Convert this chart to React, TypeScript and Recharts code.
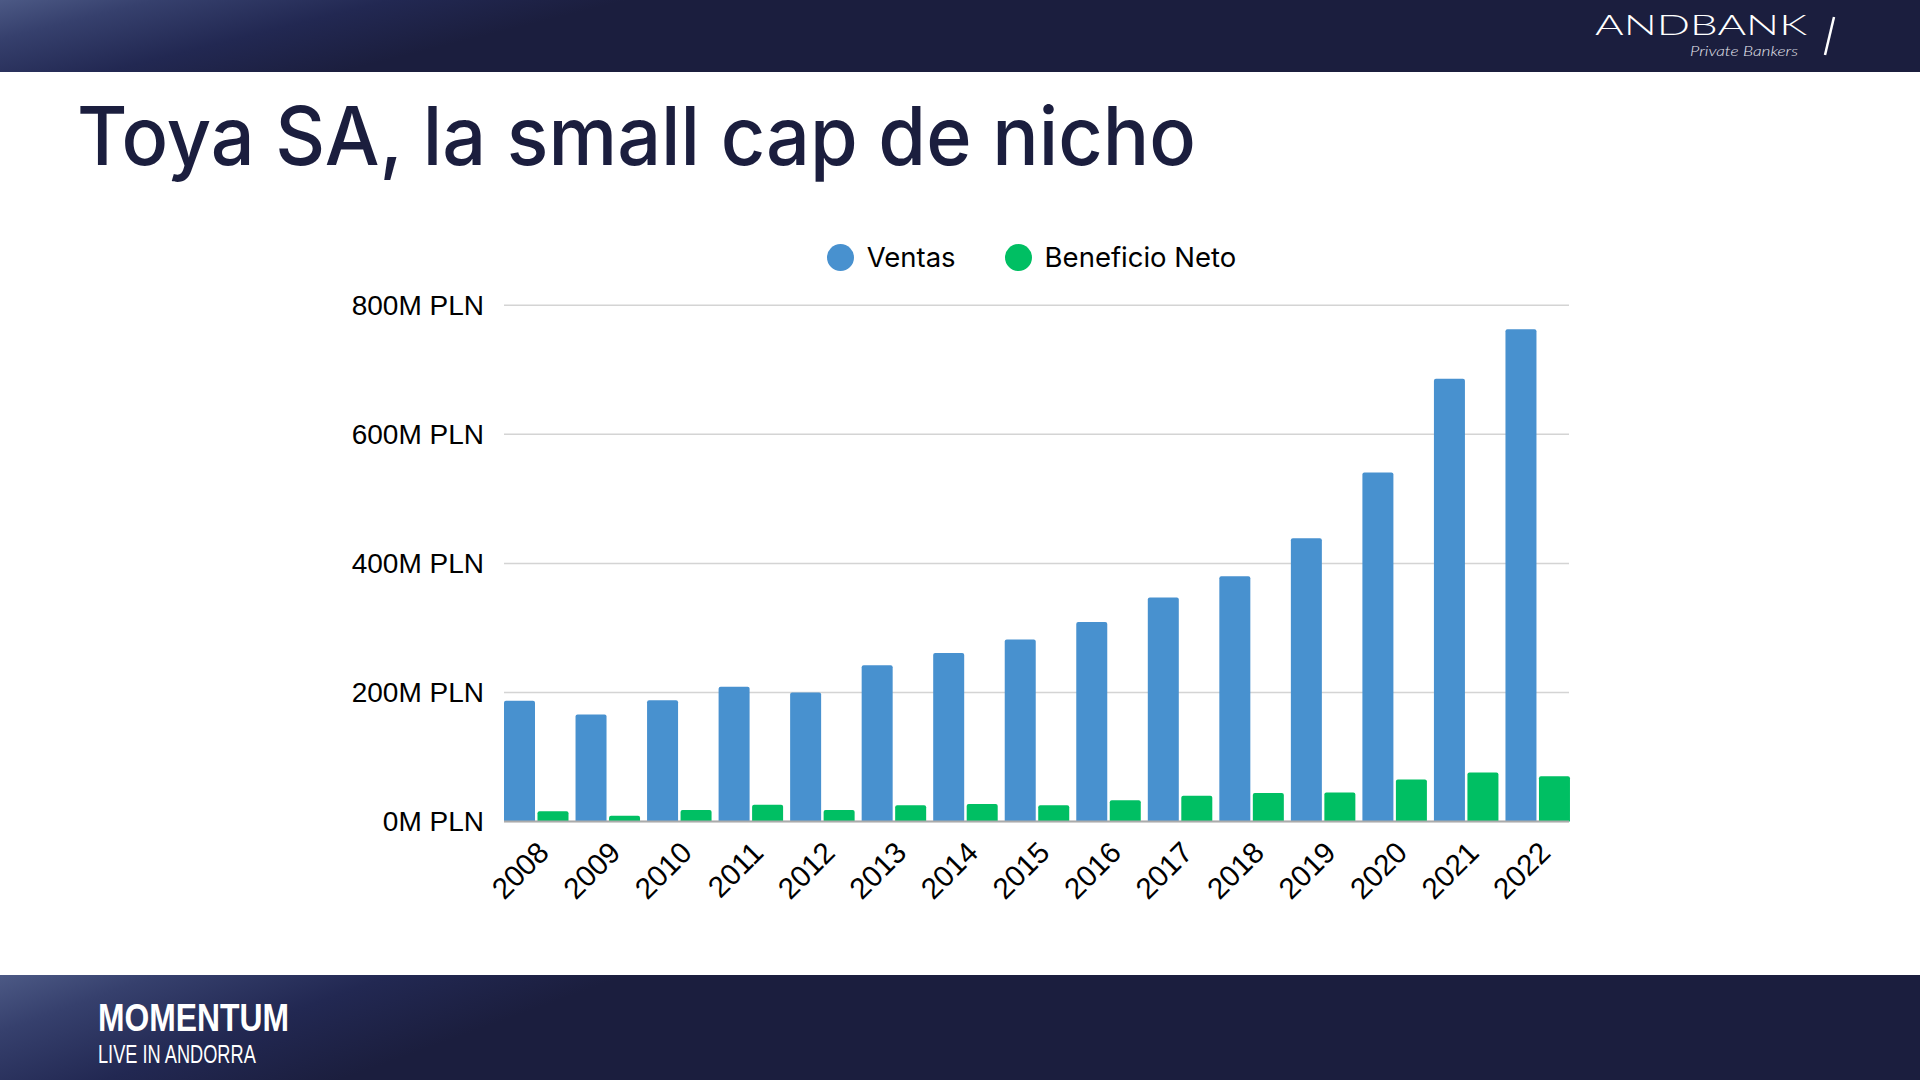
import React from 'react';
import { BarChart, Bar, XAxis, YAxis, CartesianGrid, Legend } from 'recharts';

const years = ['2008', '2009', '2010', '2011', '2012', '2013', '2014', '2015', '2016', '2017', '2018', '2019', '2020', '2021', '2022'];
const ventas = [187, 166, 188, 209, 200, 242, 261, 282, 309, 347, 380, 439, 541, 686, 763];
const beneficioNeto = [16, 9, 18, 26, 18, 25, 27, 25, 33, 40, 44, 45, 65, 76, 70];
const yTicks = [0, 200, 400, 600, 800];
const seriesNames = ['Ventas', 'Beneficio Neto'];

const data = years.map((year, i) => ({ year, ventas: ventas[i], beneficio: beneficioNeto[i] }));

const BLUE = '#4891CF';
const GREEN = '#00BF63';
const NAVY = '#1B1E3E';

const LegendContent = (props: any) => {
  const payload = [...(props.payload || [])].sort(
    (a: any, b: any) => seriesNames.indexOf(a.value) - seriesNames.indexOf(b.value)
  );
  return (
    <div
      style={{
        height: 78,
        boxSizing: 'border-box',
        paddingTop: 15,
        paddingRight: 10,
        display: 'flex',
        justifyContent: 'center',
        alignItems: 'flex-start',
        fontFamily: 'Inter, sans-serif',
        fontSize: 27.5,
        color: '#000',
      }}
    >
      {payload.map((entry: any, i: number) => (
        <div
          key={entry.value}
          style={{ display: 'flex', alignItems: 'center', height: 30, marginLeft: i === 0 ? 0 : 49 }}
        >
          <span
            style={{ width: 27, height: 27, borderRadius: '50%', background: entry.color, marginRight: 13, display: 'inline-block' }}
          />
          <span style={{ lineHeight: '30px' }}>{entry.value}</span>
        </div>
      ))}
    </div>
  );
};

export default function App() {
  return (
    <div style={{ position: 'absolute', left: 0, top: 0, width: 1920, height: 1080, background: '#fff', overflow: 'hidden' }}>
      <svg width={1920} height={1080} style={{ position: 'absolute', left: 0, top: 0 }}>
        <defs>
          <linearGradient id="bandGrad" x1="0" y1="0" x2="1" y2="0.15">
            <stop offset="0" stopColor="#4C5985" />
            <stop offset="0.08" stopColor="#36406D" />
            <stop offset="0.2" stopColor="#222852" />
            <stop offset="0.32" stopColor={NAVY} />
            <stop offset="1" stopColor={NAVY} />
          </linearGradient>
        </defs>
        <rect x={0} y={0} width={1920} height={72} fill="url(#bandGrad)" />
        <rect x={0} y={975} width={1920} height={105} fill="url(#bandGrad)" />
        <text
          x={1595}
          y={35}
          fill="#fff"
          fontFamily="Lato, sans-serif"
          fontWeight={300}
          fontSize={27}
          textLength={212}
          lengthAdjust="spacingAndGlyphs"
        >
          ANDBANK
        </text>
        <text
          x={1690}
          y={56}
          fill="#e6e6ee"
          fontFamily="Lato, sans-serif"
          fontStyle="italic"
          fontWeight={300}
          fontSize={14}
          textLength={108}
          lengthAdjust="spacingAndGlyphs"
        >
          Private Bankers
        </text>
        <line x1={1834} y1={17} x2={1825} y2={55} stroke="#fff" strokeWidth={2.5} />
        <text
          x={77}
          y={165}
          fill={NAVY}
          fontFamily="Inter, sans-serif"
          fontWeight={500}
          fontSize={81}
          textLength={1119}
          lengthAdjust="spacingAndGlyphs"
        >
          Toya SA, la small cap de nicho
        </text>
      </svg>
      <div
        style={{
          position: 'absolute',
          left: 98,
          top: 998,
          height: 39,
          lineHeight: '39px',
          fontFamily: "'Liberation Sans', Arial, sans-serif",
          fontWeight: 700,
          fontSize: 39,
          color: '#fff',
          whiteSpace: 'nowrap',
          transform: 'scaleX(0.816)',
          transformOrigin: 'left center',
        }}
      >
        MOMENTUM
      </div>
      <div
        style={{
          position: 'absolute',
          left: 98,
          top: 1042,
          height: 25,
          lineHeight: '25px',
          fontFamily: "'Liberation Sans', Arial, sans-serif",
          fontWeight: 400,
          fontSize: 25,
          color: '#fff',
          whiteSpace: 'nowrap',
          transform: 'scaleX(0.728)',
          transformOrigin: 'left center',
        }}
      >
        LIVE IN ANDORRA
      </div>
      <div style={{ position: 'absolute', left: 0, top: 0 }}>
        <BarChart
          width={1920}
          height={1080}
          data={data}
          margin={{ top: 227.3, right: 351, bottom: 158.5, left: 0 }}
          barCategoryGap="5.59%"
          barGap={2.5}
        >
          <CartesianGrid vertical={false} stroke="#D4D4D4" strokeWidth={1.5} />
          <Legend
            verticalAlign="top"
            align="center"
            content={<LegendContent />}
            wrapperStyle={{ left: 504, width: 1065 }}
          />
          <XAxis
            dataKey="year"
            interval={0}
            height={100}
            padding={{ left: -4, right: -4 }}
            axisLine={{ stroke: '#ABABAB', strokeWidth: 2 }}
            tickLine={false}
            tickSize={6}
            tickMargin={12}
            tick={{ angle: -45, textAnchor: 'end', fill: '#000', fontSize: 29.5, fontFamily: "'Liberation Sans', Arial, sans-serif" } as any}
          />
          <YAxis
            width={504}
            domain={[0, 800]}
            ticks={yTicks}
            interval={0}
            axisLine={false}
            tickLine={false}
            tickSize={6}
            tickMargin={14}
            tickFormatter={(v: number) => `${v}M PLN`}
            tick={{ fill: '#000', fontSize: 28, fontFamily: "'Liberation Sans', Arial, sans-serif" }}
          />
          <Bar dataKey="ventas" name="Ventas" fill={BLUE} radius={[2, 2, 0, 0]} isAnimationActive={false} />
          <Bar dataKey="beneficio" name="Beneficio Neto" fill={GREEN} radius={[2, 2, 0, 0]} isAnimationActive={false} />
        </BarChart>
      </div>
    </div>
  );
}
